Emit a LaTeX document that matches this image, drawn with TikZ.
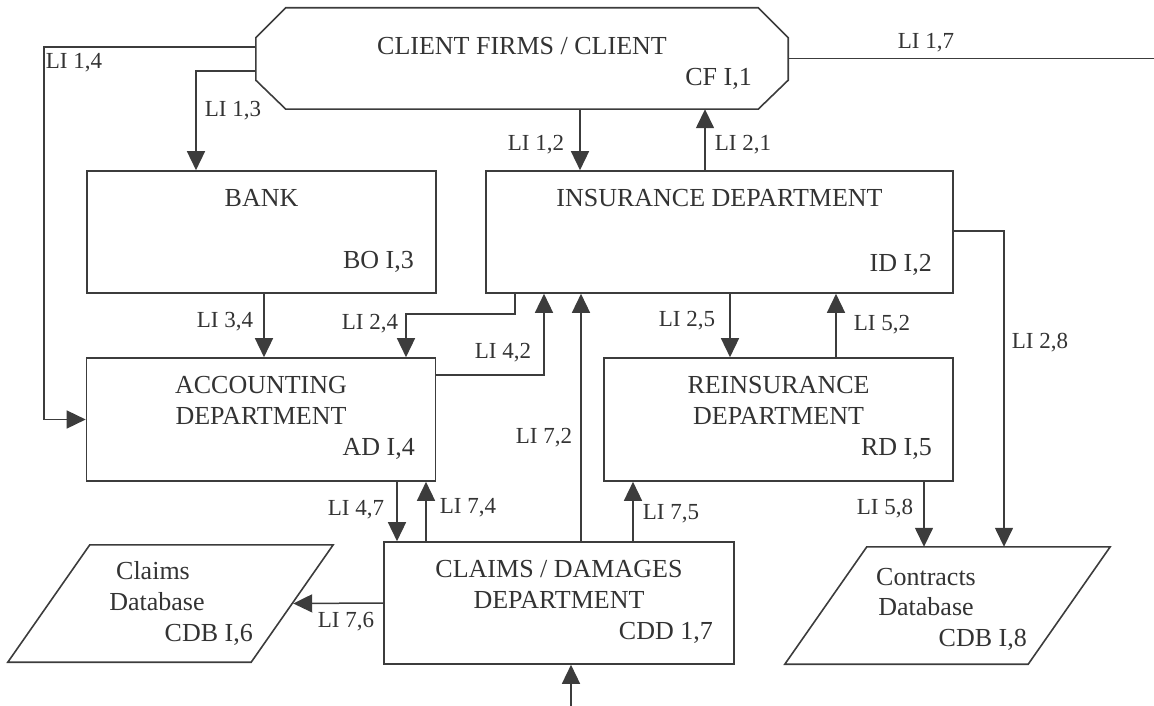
\documentclass[tikz,border=0pt]{standalone}
\usepackage{fontspec}
\setmainfont{Liberation Serif}
\usetikzlibrary{arrows.meta}

\definecolor{ink}{HTML}{333333}
\definecolor{wire}{HTML}{3C3C3C}

\tikzset{
  box/.style={draw=wire, line width=1.6pt, inner sep=0pt},
  frame/.style={inner sep=0pt, minimum width=325pt, minimum height=117pt},
  title/.style={text=ink, inner sep=0pt, anchor=base, font=\fontsize{26}{31}\selectfont},
  code/.style={title, anchor=base east},
  lbl/.style={text=ink, inner sep=0pt, anchor=base, font=\fontsize{23}{27}\selectfont},
  line/.style={draw=wire, line width=1.5pt},
  flow/.style={line, -{Triangle[length=19pt,width=18pt]}},
}

\begin{document}
\begin{tikzpicture}[x=1pt, y=-1pt]
      \useasboundingbox (0,0) rectangle (1154,706);

      % units and departments
      \node[inner sep=0pt, minimum width=532pt, minimum height=101pt] (CF) at (522,58.5) {};
      \draw[box] ([xshift=30pt]CF.north west) -- ([xshift=-30pt]CF.north east)
        -- ([yshift=-30pt]CF.north east) -- ([yshift=29pt]CF.south east)
        -- ([xshift=-30pt]CF.south east) -- ([xshift=30pt]CF.south west)
        -- ([yshift=29pt]CF.south west) -- ([yshift=-30pt]CF.north west) -- cycle;
      \node[box, minimum width=349pt, minimum height=122pt] (BO)  at (261.5,232)   {};
      \node[box, minimum width=467pt, minimum height=122pt] (ID)  at (719.5,232)   {};
      \node[box, minimum width=349pt, minimum height=123pt] (AD)  at (261,419.5)   {};
      \node[box, minimum width=349pt, minimum height=123pt] (RD)  at (778.5,419.5) {};
      \node[box, minimum width=350pt, minimum height=122pt] (CDD) at (559,603)     {};
      \node[frame] (CDB6) at (170.5,603.5) {};
      \draw[box] ([xshift=82pt]CDB6.north west) -- (CDB6.north east)
        -- ([xshift=-82pt]CDB6.south east) -- (CDB6.south west) -- cycle;
      \node[frame] (CDB8) at (947.5,605.5) {};
      \draw[box] ([xshift=82pt]CDB8.north west) -- (CDB8.north east)
        -- ([xshift=-82pt]CDB8.south east) -- (CDB8.south west) -- cycle;
      \coordinate (e6)    at ([xshift=-40pt]CDB6.east);
      \coordinate (out17) at (1154,58.5);
      \coordinate (in7)   at (571,706);

      \node[title] (CFt)  at (522,55)   {CLIENT FIRMS / CLIENT};
      \node[code]  (CFc)  at (752,86)   {CF I,1};
      \node[title] (BOt)  at (261.5,206) {BANK};
      \node[code]  (BOc)  at (414,268)  {BO I,3};
      \node[title] (IDt)  at (719.5,206) {INSURANCE DEPARTMENT};
      \node[code]  (IDc)  at (932,271)  {ID I,2};
      \node[title, align=center] (ADt) at (261,424) {ACCOUNTING\\DEPARTMENT};
      \node[code]  (ADc)  at (415,455)  {AD I,4};
      \node[title, align=center] (RDt) at (778.5,424) {REINSURANCE\\DEPARTMENT};
      \node[code]  (RDc)  at (932,455)  {RD I,5};
      \node[title, align=center] (CDDt) at (559,608) {CLAIMS / DAMAGES\\DEPARTMENT};
      \node[code]  (CDDc) at (713,639)  {CDD 1,7};
      \node[title] (C6a)  at (153,579)  {Claims};
      \node[title] (C6b)  at (157,610)  {Database};
      \node[code]  (C6c)  at (253,641)  {CDB I,6};
      \node[title] (C8a)  at (926,585)  {Contracts};
      \node[title] (C8b)  at (926,615)  {Database};
      \node[code]  (C8c)  at (1027,646) {CDB I,8};

      % links
      \draw[flow] (CF.west |- 0,47) -- (44,47) |- (AD.west);
      \node[lbl] (l14) at (74,69) {LI 1,4};
      \draw[flow] (CF.west |- 0,71) -| (196,0 |- BO.north);
      \node[lbl] (l13) at (233,117) {LI 1,3};
      \draw[flow] (580,0 |- CF.south) -- (580,0 |- ID.north);
      \node[lbl] (l12) at (536,151) {LI 1,2};
      \draw[flow] (705,0 |- ID.north) -- (705,0 |- CF.south);
      \node[lbl] (l21) at (743,151) {LI 2,1};
      \draw[line] (CF.east) -- (out17);
      \node[lbl] (l17) at (926,49) {LI 1,7};
      \draw[flow] (264,0 |- BO.south) -- (264,0 |- AD.north);
      \node[lbl] (l34) at (225,327) {LI 3,4};
      \draw[flow] (515,0 |- ID.south) |- (406,314) -- (406,0 |- AD.north);
      \node[lbl] (l24) at (370,329) {LI 2,4};
      \draw[flow] (AD.east |- 0,375) -| (544,0 |- ID.south);
      \node[lbl] (l42) at (503,358) {LI 4,2};
      \draw[flow] (581,0 |- CDD.north) -- (581,0 |- ID.south);
      \node[lbl] (l72) at (544,443) {LI 7,2};
      \draw[flow] (730,0 |- ID.south) -- (730,0 |- RD.north);
      \node[lbl] (l25) at (687,326) {LI 2,5};
      \draw[flow] (836,0 |- RD.north) -- (836,0 |- ID.south);
      \node[lbl] (l52) at (882,330) {LI 5,2};
      \draw[flow] (ID.east |- 0,231) -| (1004,0 |- CDB8.north);
      \node[lbl] (l28) at (1040,348) {LI 2,8};
      \draw[flow] (397,0 |- AD.south) -- (397,0 |- CDD.north);
      \node[lbl] (l47) at (356,515) {LI 4,7};
      \draw[flow] (426,0 |- CDD.north) -- (426,0 |- AD.south);
      \node[lbl] (l74) at (468,513) {LI 7,4};
      \draw[flow] (633,0 |- CDD.north) -- (633,0 |- RD.south);
      \node[lbl] (l75) at (671,519) {LI 7,5};
      \draw[flow] (924,0 |- RD.south) -- (924,0 |- CDB8.north);
      \node[lbl] (l58) at (885,514) {LI 5,8};
      \draw[flow] (CDD.west) -- (e6);
      \node[lbl] (l76) at (346,627) {LI 7,6};
      \draw[flow] (in7) -- (in7 |- CDD.south);
\end{tikzpicture}
\end{document}
